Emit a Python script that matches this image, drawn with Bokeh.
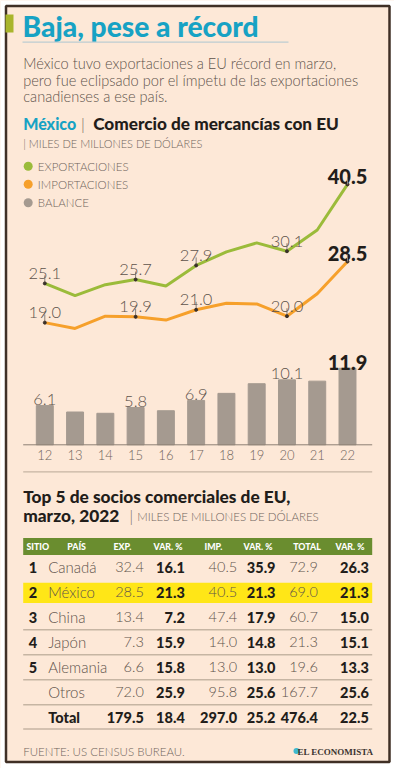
from math import pi
from bokeh.plotting import figure
from bokeh.models import Range1d
from bokeh.embed import file_html
from bokeh.resources import INLINE
from bokeh.core.properties import value

# ---------------- data ----------------
years = [12, 13, 14, 15, 16, 17, 18, 19, 20, 21, 22]
year_labels = ["12", "13", "14", "15", "16", "17", "18", "19", "20", "21", "22"]
exports = [25.1, 23.2, 24.9, 25.7, 24.7, 27.9, 30.0, 31.4, 30.1, 33.4, 40.5]
imports = [19.0, 18.1, 20.0, 19.9, 19.4, 21.0, 22.0, 21.9, 20.0, 23.5, 28.5]
balance = [6.1, 5.1, 4.9, 5.8, 5.3, 6.9, 8.0, 9.5, 10.1, 9.9, 11.9]
series_names = ["EXPORTACIONES", "IMPORTACIONES", "BALANCE"]
labeled_idx = [0, 3, 5, 8]          # points with a plain value label
highlight_idx = 10                  # last point, bold label

table_headers = ["SITIO", "PAÍS", "EXP.", "VAR. %", "IMP.", "VAR. %", "TOTAL", "VAR. %"]
ranks = ["1", "2", "3", "4", "5", "", ""]
countries = ["Canadá", "México", "China", "Japón", "Alemania", "Otros", "Total"]
exp_vals = [32.4, 28.5, 13.4, 7.3, 6.6, 72.0, 179.5]
exp_var = [16.1, 21.3, 7.2, 15.9, 15.8, 25.9, 18.4]
imp_vals = [40.5, 40.5, 47.4, 14.0, 13.0, 95.8, 297.0]
imp_var = [35.9, 21.3, 17.9, 14.8, 13.0, 25.6, 25.2]
tot_vals = [72.9, 69.0, 60.7, 21.3, 19.6, 167.7, 476.4]
tot_var = [26.3, 21.3, 15.0, 15.1, 13.3, 25.6, 22.5]

# ---------------- style ----------------
BG = "#fde8d7"
TEAL = "#17a2c4"
DARK = "#221d1a"
GRAY = "#5e534b"
LGRAY = "#6f645c"
GREEN = "#9bbb3a"
ORANGE = "#f6a02b"
BARC = "#a59a90"
RULE = "#c6b5a3"
FONT = "Lato"
LIGHT = "Lato Light"
HEAVY = "Lato Heavy"

W, H = 394, 768
p = figure(width=W, height=H, x_range=Range1d(0, W), y_range=Range1d(H, 0),
           x_axis_type=None, y_axis_type=None, toolbar_location=None,
           output_backend="svg", min_border=0)
p.background_fill_color = BG
p.border_fill_color = "#ffffff"
p.outline_line_color = None
p.grid.visible = False

# shared value scale for line chart and bar chart: 0 at y=444.3, 6.43 px per unit
ZERO_PX, K = 444.3, 6.43
p.extra_y_ranges = {"val": Range1d(-(H - ZERO_PX) / K, ZERO_PX / K)}
# year scale: 12 at x=44.3, 30.27 px per year
X12, KX = 44.3, 30.27
p.extra_x_ranges = {"yr": Range1d(12 - X12 / KX, 12 + (W - X12) / KX)}


def txt(x, y, s, size, color, align="left", baseline="middle", font=FONT, **kw):
    p.text(x=x if isinstance(x, list) else [x], y=y if isinstance(y, list) else [y],
           text=s if isinstance(s, list) else [s],
           text_font=value(font), text_font_size=f"{size}px", text_color=color,
           text_align=align, text_baseline=baseline, **kw)


# white margin + frame
p.quad(left=[0], right=[W], top=[0], bottom=[H], fill_color="#ffffff", line_color=None)
p.quad(left=[5.5], right=[389], top=[5.5], bottom=[761.5], fill_color=BG,
       line_color="#3f2f25", line_width=2.5)

# ---------------- header ----------------
p.quad(left=[5], right=[13], top=[14], bottom=[32], fill_color="#a9b52c", line_color=None)
txt(22, 25, "Baja, pese a récord", 28.2, TEAL, font=HEAVY)
p.segment(x0=[22], x1=[288], y0=[41.7], y1=[41.7], line_color="#bccdd2", line_width=1.2)
sub = ["México tuvo exportaciones a EU récord en marzo,",
       "pero fue eclipsado por el ímpetu de las exportaciones",
       "canadienses a ese país."]
txt([22.7] * 3, [63.3, 79.6, 96.3], sub, 14.6, GRAY, font=LIGHT)
txt(22.7, 123.3, "México", 16, TEAL, font=HEAVY)
txt(80.5, 123.3, "|", 16, LGRAY, font=LIGHT)
txt(92.7, 123.3, "Comercio de mercancías con EU", 17.2, DARK, font=HEAVY)
txt(22.7, 143.3, "| MILES DE MILLONES DE DÓLARES", 11, LGRAY, font=LIGHT)

# ---------------- legend ----------------
leg_y = [165.7, 183.7, 202.3]
p.scatter(x=[27.7] * 3, y=leg_y, size=9, color=[GREEN, ORANGE, BARC], line_color=None)
txt([37.3] * 3, leg_y, series_names, 11.5, LGRAY, font=LIGHT)

# ---------------- line chart ----------------
p.line(x=years, y=exports, x_range_name="yr", y_range_name="val", line_color=GREEN, line_width=3)
p.line(x=years, y=imports, x_range_name="yr", y_range_name="val", line_color=ORANGE, line_width=3)

for ser in (exports, imports):
    xs = [years[i] for i in labeled_idx]
    ys = [ser[i] for i in labeled_idx]
    p.ray(x=xs, y=ys, length=8, angle=pi / 2, length_units="screen", x_range_name="yr",
          y_range_name="val", line_color="#8a7f77", line_width=1)
    p.scatter(x=xs + [years[highlight_idx]], y=ys + [ser[highlight_idx]], size=3,
              color="#3a302a", x_range_name="yr", y_range_name="val")
    txt(xs, ys, [f"{v:.1f}" for v in ys], 16.5, GRAY, align="center", baseline="alphabetic",
        x_range_name="yr", y_range_name="val", y_offset=-10, font=LIGHT)
    txt(years[highlight_idx], ser[highlight_idx], f"{ser[highlight_idx]:.1f}", 20, DARK,
        align="center", baseline="alphabetic", x_range_name="yr", y_range_name="val",
        y_offset=-8, font=HEAVY)
    p.ray(x=[years[highlight_idx]], y=[ser[highlight_idx]], length=7, angle=pi / 2,
          length_units="screen", x_range_name="yr", y_range_name="val", line_color="#8a7f77",
          line_width=1)

# ---------------- bar chart ----------------
p.vbar(x=years, top=balance, bottom=0, width=0.56, x_range_name="yr", y_range_name="val",
       color=BARC)
p.segment(x0=[22.7], x1=[371.7], y0=[0], y1=[0], y_range_name="val", line_color="#8c7f74",
          line_width=1)
txt(years, [454] * len(years), year_labels, 13, LGRAY, align="center", x_range_name="yr",
    font=LIGHT)
bx = [years[i] for i in labeled_idx]
by = [balance[i] for i in labeled_idx]
txt(bx, by, [f"{v:.1f}" for v in by], 16.5, GRAY, align="center", baseline="alphabetic",
    x_range_name="yr", y_range_name="val", y_offset=-6, font=LIGHT)
txt(years[highlight_idx], balance[highlight_idx], f"{balance[highlight_idx]:.1f}", 20, DARK,
    align="center", baseline="alphabetic", x_range_name="yr", y_range_name="val",
    y_offset=-6, font=HEAVY)
p.segment(x0=[22.7], x1=[371.7], y0=[471.3], y1=[471.3], line_color=RULE, line_width=1.2)

# ---------------- table ----------------
txt(22.7, 495.7, "Top 5 de socios comerciales de EU,", 17.3, DARK, font=HEAVY)
txt(22.7, 515, "marzo, 2022", 17.3, DARK, font=HEAVY)
txt(129, 515, "|", 15, LGRAY, font=LIGHT)
txt(136.7, 515.5, "MILES DE MILLONES DE DÓLARES", 11.5, LGRAY, font=LIGHT)

p.quad(left=[22.7], right=[371.7], top=[537.5], bottom=[554.5], fill_color="#6a8d2f",
       line_color=None)
hx = [26, 66.7, 113, 153, 204, 243, 292.7, 335]
txt(hx, [546.2] * 8, table_headers, 8.8, "#ffffff", font=HEAVY)

p.quad(left=[22.7], right=[371.7], top=[582.3], bottom=[602.5], fill_color="#ffe617",
       line_color=None)
sep_y = [629.2, 654.2, 679.2, 704.2, 728.6]
p.segment(x0=[22.7] * 5, x1=[371.7] * 5, y0=sep_y, y1=sep_y, line_color=RULE, line_width=1.5)

row_y = [566.7 + 25 * i for i in range(len(countries))]
n = len(countries)
tot = n - 1
txt([36.7] * n, row_y, ranks, 14.5, DARK, align="right", font=HEAVY)
txt([47.7] * (n - 1), row_y[:-1], countries[:-1], 15, GRAY, font=LIGHT)
txt(47.7, row_y[tot], countries[tot], 14.5, DARK, font=HEAVY)
cols = [(exp_vals, 143.3, False), (exp_var, 184.3, True), (imp_vals, 236.7, False),
        (imp_var, 275.0, True), (tot_vals, 317.3, False), (tot_var, 368.3, True)]
for vals, xr, bold in cols:
    txt([xr] * (n - 1), row_y[:-1], [f"{v:.1f}" for v in vals[:-1]], 14.5,
        DARK if bold else GRAY, align="right", font=HEAVY if bold else LIGHT)
    txt(xr, row_y[tot], f"{vals[tot]:.1f}", 14.5, DARK, align="right", font=HEAVY)

# ---------------- footer ----------------
txt(22.7, 751, "FUENTE: US CENSUS BUREAU.", 11.5, LGRAY, font=LIGHT)
p.scatter(x=[296], y=[750.5], size=6, color="#3fb8cf", line_color=None)
txt(373, 751, "EL ECONOMISTA", 9, "#3b3430", align="right", font="Liberation Serif",
    text_font_style="bold")

open("out.html", "w").write(file_html(p, INLINE))
